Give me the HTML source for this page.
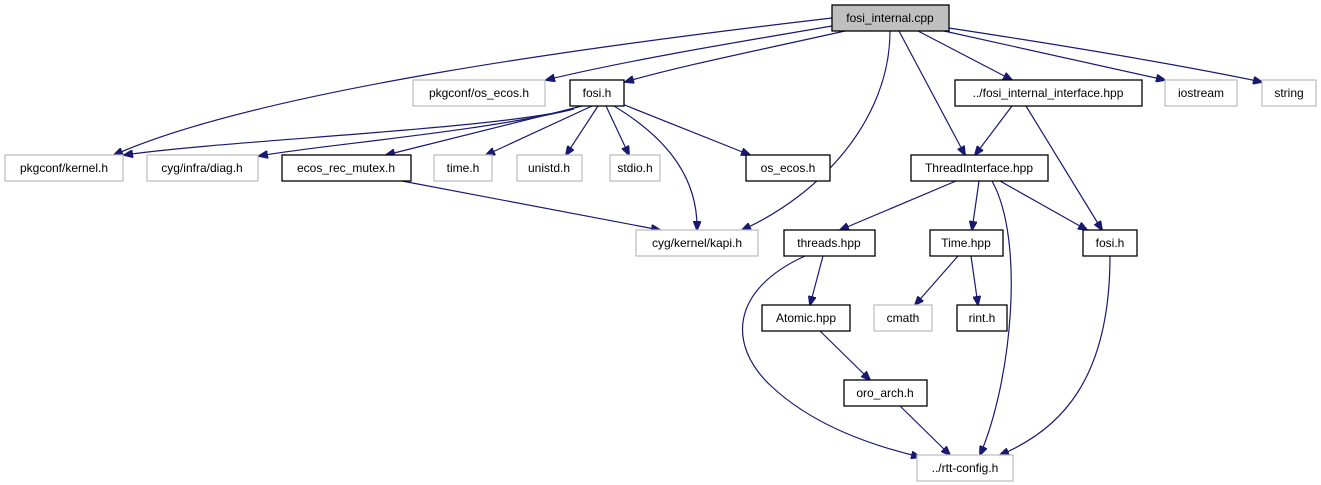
<!DOCTYPE html>
<html><head><meta charset="utf-8"><style>
html,body{margin:0;padding:0;background:#fff;}
svg{display:block;}
text{font-family:"Liberation Sans",sans-serif;font-size:12px;fill:#000;text-anchor:middle;}
.g{fill:#fff;stroke:#bfbfbf;stroke-width:1.3;}
.b{fill:#fff;stroke:#000;stroke-width:1.3;}
.e{fill:none;stroke:#191970;stroke-width:1.2;marker-end:url(#a);}
</style></head><body>
<svg width="1321" height="485" viewBox="0 0 1321 485">
<defs><marker id="a" markerWidth="10" markerHeight="8" refX="9" refY="4" orient="auto" markerUnits="userSpaceOnUse"><path d="M0,0 L10,4 L0,8 z" fill="#191970" stroke="#191970"/></marker></defs>
<!-- edges -->
<path class="e" d="M832,18 C 600,45 260,90 114,155"/>
<path class="e" d="M832,26 C 720,45 620,62 546,80"/>
<path class="e" d="M845,31 C 760,50 680,66 625,82"/>
<path class="e" d="M890,31 C 890,120 820,195 742,230"/>
<path class="e" d="M899,31 L965,155"/>
<path class="e" d="M918,31 L1012,80"/>
<path class="e" d="M944,31 L1165,80"/>
<path class="e" d="M949,28 C 1080,48 1180,65 1262,82"/>
<path class="e" d="M570,110 C 480,130 230,140 124,155"/>
<path class="e" d="M574,109 C 480,132 320,145 259,156"/>
<path class="e" d="M582,106 L386,155"/>
<path class="e" d="M592,106 L486,155"/>
<path class="e" d="M598,106 L566,155"/>
<path class="e" d="M606,106 L629,155"/>
<path class="e" d="M622,104 L750,155"/>
<path class="e" d="M614,106 C 670,140 698,180 697,230"/>
<path class="e" d="M402,181 L660,230"/>
<path class="e" d="M1012,106 L975,155"/>
<path class="e" d="M1026,106 L1102,230"/>
<path class="e" d="M956,181 L840,230"/>
<path class="e" d="M979,181 L972,230"/>
<path class="e" d="M1000,181 L1087,230"/>
<path class="e" d="M992,181 C 1025,240 1012,380 980,455"/>
<path class="e" d="M823,256 L810,305"/>
<path class="e" d="M805,256 C 730,290 728,345 770,385 C 812,425 870,445 920,457"/>
<path class="e" d="M958,256 L915,305"/>
<path class="e" d="M971,256 L978,305"/>
<path class="e" d="M820,331 L870,380"/>
<path class="e" d="M900,406 L950,455"/>
<path class="e" d="M1110,256 C 1110,380 1060,430 1000,455"/>
<!-- nodes -->
<rect x="832" y="5" width="117" height="26" fill="#bfbfbf" stroke="#000" stroke-width="1.3"/><text x="890" y="22">fosi_internal.cpp</text>
<rect class="g" x="413" y="80" width="132" height="26"/><text x="479" y="97">pkgconf/os_ecos.h</text>
<rect class="b" x="570" y="80" width="54" height="26"/><text x="597" y="97">fosi.h</text>
<rect class="b" x="955" y="80" width="187" height="26"/><text x="1048" y="97">../fosi_internal_interface.hpp</text>
<rect class="g" x="1165" y="80" width="72" height="26"/><text x="1201" y="97">iostream</text>
<rect class="g" x="1262" y="80" width="54" height="26"/><text x="1289" y="97">string</text>
<rect class="g" x="5" y="155" width="118" height="26"/><text x="64" y="172">pkgconf/kernel.h</text>
<rect class="g" x="147" y="155" width="111" height="26"/><text x="202" y="172">cyg/infra/diag.h</text>
<rect class="b" x="282" y="155" width="129" height="26"/><text x="346" y="172">ecos_rec_mutex.h</text>
<rect class="g" x="434" y="155" width="58" height="26"/><text x="463" y="172">time.h</text>
<rect class="g" x="517" y="155" width="65" height="26"/><text x="549" y="172">unistd.h</text>
<rect class="g" x="610" y="155" width="50" height="26"/><text x="635" y="172">stdio.h</text>
<rect class="b" x="746" y="155" width="84" height="26"/><text x="788" y="172">os_ecos.h</text>
<rect class="b" x="911" y="155" width="137" height="26"/><text x="979" y="172">ThreadInterface.hpp</text>
<rect class="g" x="636" y="230" width="122" height="26"/><text x="697" y="247">cyg/kernel/kapi.h</text>
<rect class="b" x="784" y="230" width="91" height="26"/><text x="829" y="247">threads.hpp</text>
<rect class="b" x="930" y="230" width="73" height="26"/><text x="966" y="247">Time.hpp</text>
<rect class="b" x="1083" y="230" width="54" height="26"/><text x="1110" y="247">fosi.h</text>
<rect class="b" x="762" y="305" width="88" height="26"/><text x="806" y="322">Atomic.hpp</text>
<rect class="g" x="874" y="305" width="58" height="26"/><text x="903" y="322">cmath</text>
<rect class="b" x="957" y="305" width="50" height="26"/><text x="982" y="322">rint.h</text>
<rect class="b" x="844" y="380" width="83" height="26"/><text x="885" y="397">oro_arch.h</text>
<rect class="g" x="917" y="455" width="96" height="26"/><text x="965" y="472">../rtt-config.h</text>
</svg>
</body></html>
